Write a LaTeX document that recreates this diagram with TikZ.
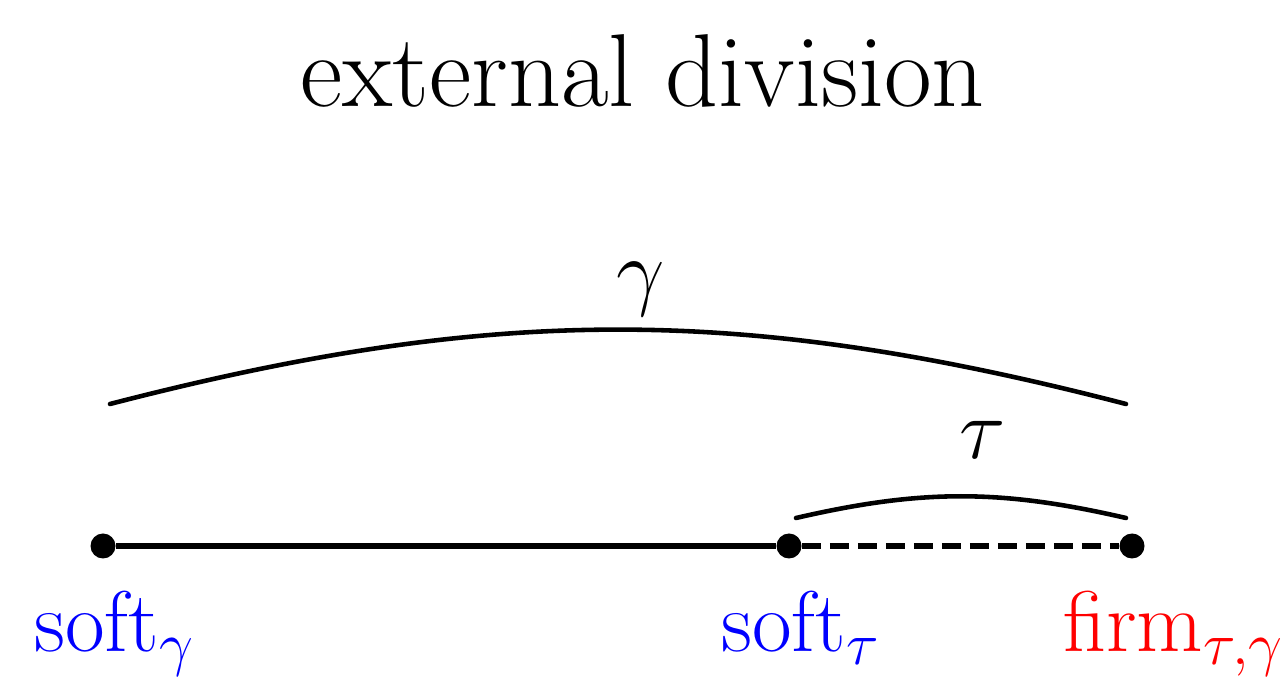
\RequirePackage{fix-cm}
\documentclass[tikz,border=0pt]{standalone}
\usetikzlibrary{positioning}

\begin{document}
\begin{tikzpicture}[
			dot/.style={circle, fill=black, inner sep=0pt, minimum size=0.5cm},
			ptlabel/.style={anchor=base west, inner sep=0pt, font=\fontsize{49}{58}\selectfont},
			arclabel/.style={anchor=base, inner sep=0pt, font=\fontsize{49}{58}\selectfont},
			seg/.style={line width=3.1pt},
			span/.style={line width=2.6pt},
		]
		\useasboundingbox (0,0) rectangle (25.7,13.66);

		% --- Titolo ---
		\node (title) [anchor=base, inner sep=0pt, font=\fontsize{59}{70}\selectfont] at (12.85, 11.52) {external division};

		% --- Punti sulla retta ---
		\node (sg) [dot] at (2.06,  2.74) {};
		\node (st) [dot] at (15.78, 2.74) {};
		\node (fm) [dot] at (22.64, 2.74) {};

		\node (lsg) [ptlabel, text=blue] at (0.68,  0.62) {soft$_\gamma$};
		\node (lst) [ptlabel, text=blue] at (14.42, 0.62) {soft$_\tau$};
		\node (lfm) [ptlabel, text=red]  at (21.26, 0.62) {firm$_{\tau,\gamma}$};

		\draw [seg] (sg) -- (st);
		\draw [seg, dash pattern=on 0.38cm off 0.18cm] (st) -- (fm);

		% --- Archi gamma e tau ---
		\coordinate (ga) at (2.2,   5.58);
		\coordinate (gb) at (22.52, 5.58);
		\coordinate (ta) at (15.92, 3.3);
		\coordinate (tb) at (22.52, 3.3);
		\draw [span, line cap=round] (ga) to[bend left=14.5] (gb);
		\draw [span, line cap=round] (ta) to[bend left=13] (tb);

		\node (lg) [arclabel] at (12.82, 7.66) {$\gamma$};
		\node (lt) [arclabel] at (19.66, 4.48) {$\tau$};

	\end{tikzpicture}
\end{document}
